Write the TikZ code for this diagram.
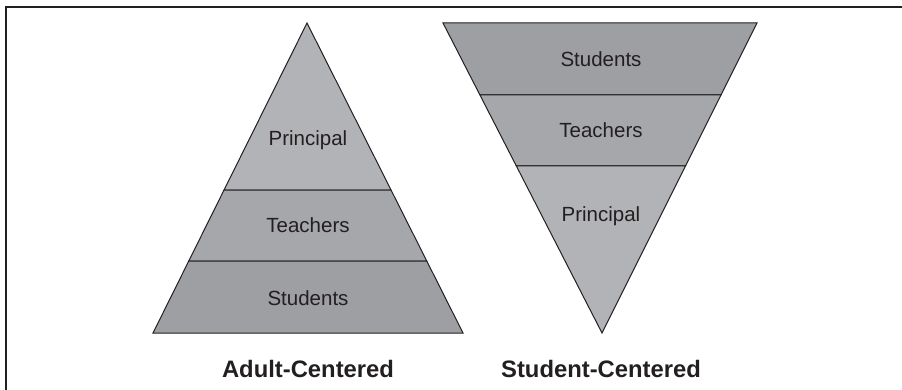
\documentclass[tikz,border=0pt]{standalone}
\usepackage{fontspec}
\setmainfont{Liberation Sans}
\usetikzlibrary{calc,positioning}
\definecolor{ink}{RGB}{35,31,32}
\definecolor{principalgray}{RGB}{178,179,182}
\definecolor{teachergray}{RGB}{166,167,171}
\definecolor{studentgray}{RGB}{158,159,163}
\tikzset{
  layer/.style={draw=ink, line width=1pt, line join=miter},
  lbl/.style={anchor=base, text=ink, font=\fontsize{20.5}{24}\selectfont},
  caption/.style={anchor=base, text=ink, font=\fontsize{23.8}{28}\selectfont\bfseries}}

\begin{document}
\begin{tikzpicture}[x=1pt,y=-1pt]
  \useasboundingbox (0,0) rectangle (902,390);
  \draw[ink, line width=1.6pt](6,390)--(6,7)--(902,7);
  % adult-centered pyramid
  \coordinate(A) at (307,23);
  \coordinate(AL) at (153,333);
  \coordinate(AR) at (463,333);
  \coordinate(AL1) at ($(A)!0.539!(AL)$);
  \coordinate(AR1) at ($(A)!0.539!(AR)$);
  \coordinate(AL2) at ($(A)!0.768!(AL)$);
  \coordinate(AR2) at ($(A)!0.768!(AR)$);
  \filldraw[layer, fill=principalgray](A)--(AR1)--(AL1)--cycle;
  \filldraw[layer, fill=teachergray](AL1)--(AR1)--(AR2)--(AL2)--cycle;
  \filldraw[layer, fill=studentgray](AL2)--(AR2)--(AR)--(AL)--cycle;
  \node[lbl](a-principal) at (308,146){Principal};
  \node[lbl](a-teachers) at (308,233){Teachers};
  \node[lbl](a-students) at (308,305){Students};
  \node[caption](a-caption) at (308,377){Adult-Centered};
  % student-centered pyramid
  \coordinate(S) at (602,333);
  \coordinate(SL) at (443,23);
  \coordinate(SR) at (757,23);
  \coordinate(SL1) at ($(SL)!0.232!(S)$);
  \coordinate(SR1) at ($(SR)!0.232!(S)$);
  \coordinate(SL2) at ($(SL)!0.461!(S)$);
  \coordinate(SR2) at ($(SR)!0.461!(S)$);
  \filldraw[layer, fill=studentgray](SL)--(SR)--(SR1)--(SL1)--cycle;
  \filldraw[layer, fill=teachergray](SL1)--(SR1)--(SR2)--(SL2)--cycle;
  \filldraw[layer, fill=principalgray](SL2)--(SR2)--(S)--cycle;
  \node[lbl](s-students) at (601,67){Students};
  \node[lbl](s-teachers) at (601,138){Teachers};
  \node[lbl](s-principal) at (601,222){Principal};
  \node[caption](s-caption) at (601,377){Student-Centered};
\end{tikzpicture}
\end{document}
